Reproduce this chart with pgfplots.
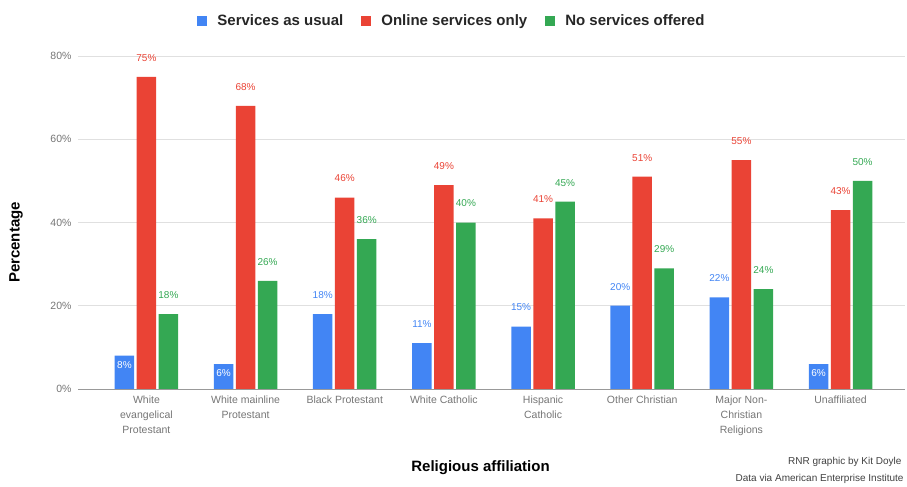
\documentclass[border=0pt]{standalone}
\usepackage{fontspec}
\setmainfont{Liberation Sans}
\usepackage{pgfplots}
\pgfplotsset{compat=1.18}

\definecolor{gblue}{HTML}{4285F4}
\definecolor{gred}{HTML}{EA4335}
\definecolor{ggreen}{HTML}{34A853}
\definecolor{ticktext}{HTML}{757575}

\pgfplotsset{
  pct/.style={nodes near coords={\pgfmathprintnumber{\pgfplotspointmeta}\%},
    every node near coord/.append style={font=\fontsize{10bp}{12bp}\selectfont, anchor=center}},
}

\begin{document}
\begin{tikzpicture}
\begin{axis}[
  at={(78bp,95bp)}, anchor=south west,
  scale only axis,
  width=827bp, height=333bp,
  ybar,
  bar width=19.5bp,
  xmin=-0.69, xmax=7.65,
  ymin=0, ymax=80,
  xtick={0,...,7},
  xticklabels={White\\evangelical\\Protestant, White mainline\\Protestant, Black Protestant, White Catholic, Hispanic\\Catholic, Other Christian, Major Non-\\Christian\\Religions, Unaffiliated},
  ytick={0,20,40,60,80},
  yticklabel={\pgfmathprintnumber{\tick}\%},
  /pgf/number format/assume math mode=true,
  major tick length=0pt,
  axis x line*=bottom,
  axis y line*=left,
  y axis line style={draw=none},
  x axis line style={draw=black!40, line width=0.8pt},
  ymajorgrids=true,
  grid style={draw=black!12, line width=0.6pt},
  xticklabel style={font=\fontsize{10.5bp}{15bp}\selectfont, text=ticktext, align=center, anchor=north, yshift=-3bp},
  yticklabel style={font=\fontsize{10.5bp}{12bp}\selectfont, text=ticktext, anchor=east, xshift=-3bp},
  xlabel={Religious affiliation},
  ylabel={Percentage},
  every axis x label/.style={at={(rel axis cs:0.5,0)}, anchor=center, xshift=-11bp, yshift=-79bp, font=\fontsize{15bp}{18bp}\selectfont\bfseries},
  every axis y label/.style={at={(rel axis cs:0,0.5)}, xshift=-62bp, yshift=-20bp, anchor=center, rotate=90, font=\fontsize{15bp}{18bp}\selectfont\bfseries},
  legend columns=-1,
  legend style={at={(axis description cs:0.451,1.105)}, anchor=center, draw=none, fill=none,
    font=\fontsize{15bp}{18bp}\selectfont\bfseries, text=black!85,
    nodes={inner sep=0pt},
    /tikz/every odd column/.append style={column sep=10bp},
    /tikz/every even column/.append style={column sep=18bp}},
  legend image code/.code={\fill[#1] (0bp,-5bp) rectangle (10bp,5bp);},
]
\addplot[fill=gblue, draw=none, bar shift=-22bp]
  coordinates {(0,8) (1,6) (2,18) (3,11) (4,15) (5,20) (6,22) (7,6)};
\addplot[fill=gred, draw=none, bar shift=0bp, pct, nodes near coords style={text=gred, yshift=19bp}]
  coordinates {(0,75) (1,68) (2,46) (3,49) (4,41) (5,51) (6,55) (7,43)};
\addplot[fill=ggreen, draw=none, bar shift=22bp, pct, nodes near coords style={text=ggreen, yshift=19bp}]
  coordinates {(0,18) (1,26) (2,36) (3,40) (4,45) (5,29) (6,24) (7,50)};
\legend{Services as usual, Online services only, No services offered}
% labels of the blue bars: above the tall ones, inside the short ones
\addplot[forget plot, draw=none, fill=none, bar shift=-22bp, pct, nodes near coords style={text=gblue, yshift=19bp}]
  coordinates {(2,18) (3,11) (4,15) (5,20) (6,22)};
\addplot[forget plot, draw=none, fill=none, bar shift=-22bp, pct, nodes near coords style={text=white, yshift=-9bp}]
  coordinates {(0,8) (1,6) (7,6)};
\end{axis}
\node[anchor=east, font=\fontsize{10bp}{11bp}\selectfont, text=black!75] at (905bp,22bp) {RNR graphic by Kit Doyle};
\node[anchor=east, font=\fontsize{10bp}{11bp}\selectfont, text=black!75] at (907bp,5bp) {Data via American Enterprise Institute};
\useasboundingbox (0,0) rectangle (907bp,484bp);
\end{tikzpicture}
\end{document}
